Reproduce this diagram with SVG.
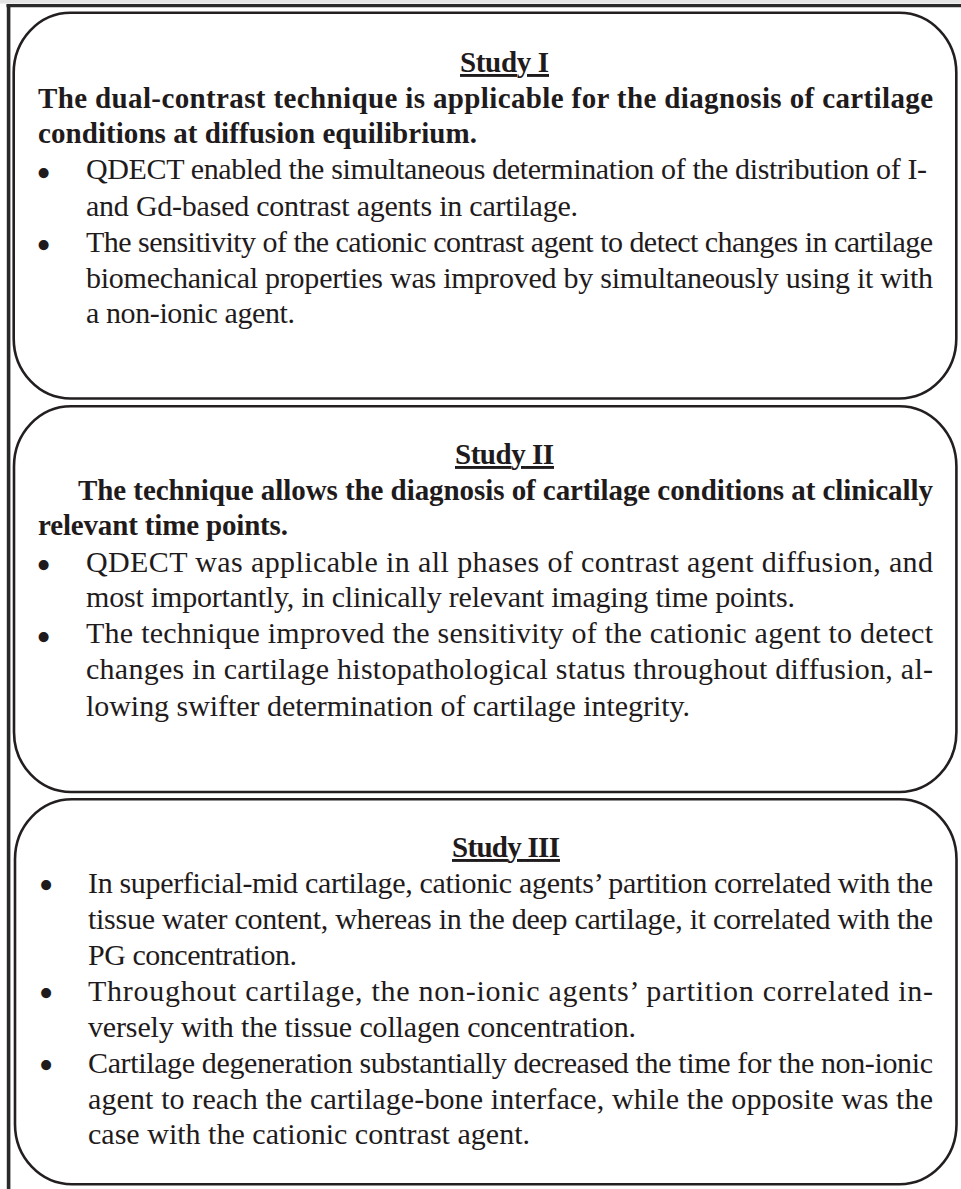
<svg xmlns="http://www.w3.org/2000/svg" width="961" height="1189" viewBox="0 0 961 1189">
<style>
.box{fill:#fff;stroke:#231f20;stroke-width:2.6}
.t{font-family:"Liberation Serif","Times New Roman",serif;font-size:30px;fill:#1f1b1c}
.b{font-weight:bold;font-size:29px}
.h{font-weight:bold;font-size:29px;text-decoration:underline}
.bul{font-family:"Liberation Serif","Times New Roman",serif;font-size:42px;fill:#1f1b1c;text-anchor:middle}
</style>
<rect x="0" y="0" width="961" height="1189" fill="#fff"/>
<g id="frame">
<rect x="0" y="0" width="961" height="3.5" fill="#e4e4e4"/>
<line x1="6.5" y1="5.6" x2="961" y2="5.6" stroke="#2a2a2a" stroke-width="3.4"/>
<line x1="8.6" y1="4" x2="8.6" y2="1189" stroke="#2a2a2a" stroke-width="3.6"/>
</g>
<g id="study1">
<rect class="box" x="13.7" y="12.8" width="942.6" height="385.7" rx="57" ry="60"/>
<text class="t h" x="460" y="72" textLength="89" lengthAdjust="spacing">Study I</text>
<text class="t b" x="38" y="108" textLength="895" lengthAdjust="spacing">The dual-contrast technique is applicable for the diagnosis of cartilage</text>
<text class="t b" x="38" y="143" textLength="439" lengthAdjust="spacing">conditions at diffusion equilibrium.</text>
<text class="bul" x="43.5" y="187">•</text>
<text class="t" x="86" y="179" textLength="841" lengthAdjust="spacing">QDECT enabled the simultaneous determination of the distribution of I-</text>
<text class="t" x="86" y="216" textLength="492" lengthAdjust="spacing">and Gd-based contrast agents in cartilage.</text>
<text class="bul" x="43.5" y="259">•</text>
<text class="t" x="86" y="252" textLength="847" lengthAdjust="spacing">The sensitivity of the cationic contrast agent to detect changes in cartilage</text>
<text class="t" x="86" y="288" textLength="847" lengthAdjust="spacing">biomechanical properties was improved by simultaneously using it with</text>
<text class="t" x="86" y="323" textLength="209" lengthAdjust="spacing">a non-ionic agent.</text>
</g>
<g id="study2">
<rect class="box" x="14" y="406.3" width="942.4" height="385.7" rx="57" ry="60"/>
<text class="t h" x="455" y="464" textLength="99" lengthAdjust="spacing">Study II</text>
<text class="t b" x="78" y="500" textLength="855" lengthAdjust="spacing">The technique allows the diagnosis of cartilage conditions at clinically</text>
<text class="t b" x="38" y="535" textLength="250" lengthAdjust="spacing">relevant time points.</text>
<text class="bul" x="43.5" y="579">•</text>
<text class="t" x="86" y="572" textLength="847" lengthAdjust="spacing">QDECT was applicable in all phases of contrast agent diffusion, and</text>
<text class="t" x="86" y="607" textLength="709" lengthAdjust="spacing">most importantly, in clinically relevant imaging time points.</text>
<text class="bul" x="43.5" y="651">•</text>
<text class="t" x="86" y="643" textLength="847" lengthAdjust="spacing">The technique improved the sensitivity of the cationic agent to detect</text>
<text class="t" x="86" y="679" textLength="847" lengthAdjust="spacing">changes in cartilage histopathological status throughout diffusion, al-</text>
<text class="t" x="86" y="716" textLength="604" lengthAdjust="spacing">lowing swifter determination of cartilage integrity.</text>
</g>
<g id="study3">
<rect class="box" x="15" y="799.3" width="941.5" height="385" rx="57" ry="60"/>
<text class="t h" x="452" y="857" textLength="108" lengthAdjust="spacing">Study III</text>
<text class="bul" x="46" y="899">•</text>
<text class="t" x="88" y="893" textLength="845" lengthAdjust="spacing">In superficial-mid cartilage, cationic agents’ partition correlated with the</text>
<text class="t" x="88" y="929" textLength="845" lengthAdjust="spacing">tissue water content, whereas in the deep cartilage, it correlated with the</text>
<text class="t" x="88" y="965" textLength="209" lengthAdjust="spacing">PG concentration.</text>
<text class="bul" x="46" y="1007">•</text>
<text class="t" x="88" y="1001" textLength="845" lengthAdjust="spacing">Throughout cartilage, the non-ionic agents’ partition correlated in-</text>
<text class="t" x="88" y="1037" textLength="548" lengthAdjust="spacing">versely with the tissue collagen concentration.</text>
<text class="bul" x="46" y="1079">•</text>
<text class="t" x="88" y="1073" textLength="845" lengthAdjust="spacing">Cartilage degeneration substantially decreased the time for the non-ionic</text>
<text class="t" x="88" y="1109" textLength="845" lengthAdjust="spacing">agent to reach the cartilage-bone interface, while the opposite was the</text>
<text class="t" x="88" y="1144" textLength="442" lengthAdjust="spacing">case with the cationic contrast agent.</text>
</g>
</svg>
